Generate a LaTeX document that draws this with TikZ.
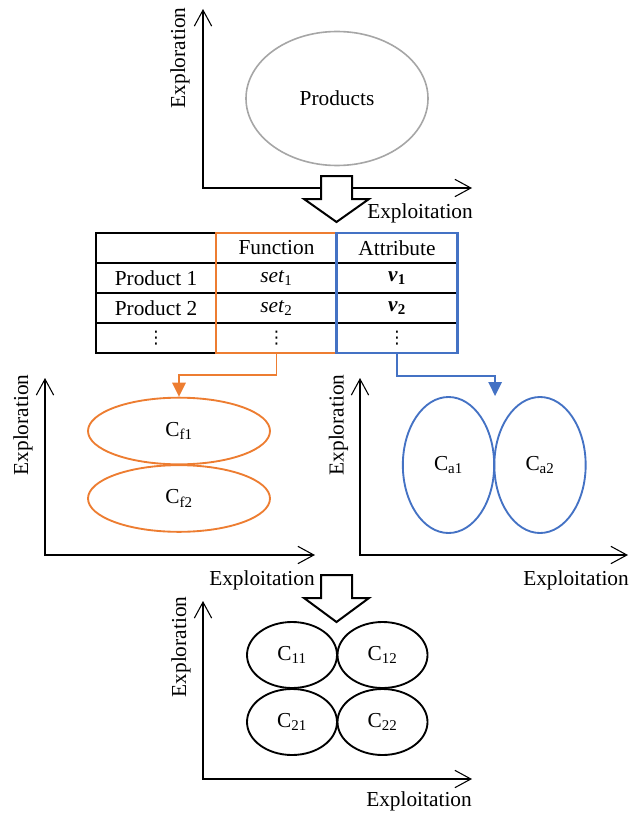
\documentclass[tikz,border=0pt]{standalone}
\usepackage{fontspec}
\setmainfont{Liberation Serif}
\newfontfamily\dotsfont{DejaVu Sans}
\usetikzlibrary{arrows.meta,shapes.geometric,positioning}

\definecolor{fnorange}{HTML}{ED7D31}
\definecolor{atblue}{HTML}{4472C4}

\begin{document}
\begin{tikzpicture}[x=0.75pt,y=-0.75pt,
  every node/.style={font=\fontsize{16}{18}\selectfont},
  axis/.style={{Straight Barb[length=12pt,width=13pt]}-{Straight Barb[length=12pt,width=13pt]},line width=0.8pt},
  prod node/.style={ellipse,draw=black!35,line width=1.2pt,minimum width=136.5pt,minimum height=100.5pt},
  fn node/.style={ellipse,draw=fnorange,line width=1.4pt,minimum width=136.5pt,minimum height=50pt},
  at node/.style={ellipse,draw=atblue,line width=1.4pt,minimum width=68.5pt,minimum height=102pt},
  mix node/.style={ellipse,draw,line width=1.4pt,minimum width=67.5pt,minimum height=49.5pt},
  cell node/.style={inner sep=0pt},
  dots node/.style={inner sep=0pt,font=\dotsfont\fontsize{13}{14}\selectfont},
  col node/.style={rectangle,inner sep=0pt,line width=1.6pt,minimum width=90.75pt,minimum height=90pt},
  hollow/.style={draw,fill=white,line width=1.5pt,line join=miter}]
  \useasboundingbox (0,0) rectangle (629,813);

  % top panel
  \coordinate (y1) at (203,9);
  \coordinate (o1) at (203,188);
  \coordinate (x1) at (472,188);
  \draw[axis] (y1) -- (o1) -- (x1);
  \node[rotate=90] (ey1) at (180,58) {Exploration};
  \node[prod node] (prod) at (337,98.5) {Products};

  % table
  \draw[line width=1.6pt] (96,233) rectangle (457,353);
  \foreach \y in {263,293,323}
    \draw[line width=1.6pt] (96,\y) -- (457,\y);
  \node[cell node] (fn) at (276.5,248) {Function};
  \node[cell node] (at) at (397,248) {Attribute};
  \node[cell node] (p1) at (156,278) {Product 1};
  \node[cell node] (f1) at (276.5,278) {\textit{set}\textsubscript{1}};
  \node[cell node] (a1) at (397,278) {\textbf{\textit{v}}\textsubscript{\textbf{1}}};
  \node[cell node] (p2) at (156,308) {Product 2};
  \node[cell node] (f2) at (276.5,308) {\textit{set}\textsubscript{2}};
  \node[cell node] (a2) at (397,308) {\textbf{\textit{v}}\textsubscript{\textbf{2}}};
  \node[dots node] (p3) at (156,338) {⋮};
  \node[dots node] (f3) at (276.5,338) {⋮};
  \node[dots node] (a3) at (397,338) {⋮};
  \node[col node,draw=fnorange] (fncol) at (276.5,293) {};
  \node[col node,draw=atblue] (atcol) at (397,293) {};

  \node (ex1) at (420,213) {Exploitation};
  \draw[hollow] (336.5,176) -- ++(15.5,0) -- ++(0,23) -- ++(17,0) -- ++(-32.5,23)
    -- ++(-32.5,-23) -- ++(17,0) -- ++(0,-23) -- cycle;

  % function panel
  \coordinate (y2) at (45,378);
  \coordinate (o2) at (45,555);
  \coordinate (x2) at (315,555);
  \draw[axis] (y2) -- (o2) -- (x2);
  \node[rotate=90] (ey2) at (23,425) {Exploration};
  \node (ex2) at (262,580) {Exploitation};
  \node[fn node] (cf1) at (179,431) {C\textsubscript{f1}};
  \node[fn node] (cf2) at (179,498.5) {C\textsubscript{f2}};
  \draw[fnorange,line width=1.4pt,-{Triangle[length=10.5pt,width=10pt]}]
    (fncol.south) -- ++(0,21) -| (cf1.north);

  % attribute panel
  \coordinate (y3) at (360,378);
  \coordinate (o3) at (360,555);
  \coordinate (x3) at (628,555);
  \draw[axis] (y3) -- (o3) -- (x3);
  \node[rotate=90] (ey3) at (338.5,425) {Exploration};
  \node (ex3) at (576,580) {Exploitation};
  \node[at node] (ca1) at (448.5,465) {C\textsubscript{a1}};
  \node[at node] (ca2) at (540,465) {C\textsubscript{a2}};
  \draw[atblue,line width=1.4pt,-{Triangle[length=10.5pt,width=10pt]}]
    (atcol.south) -- ++(0,22) -| (ca1.east |- ca1.north);

  % combined panel
  \draw[hollow] (336.5,575) -- ++(15.5,0) -- ++(0,23) -- ++(17,0) -- ++(-32.5,24)
    -- ++(-32.5,-24) -- ++(17,0) -- ++(0,-23) -- cycle;
  \coordinate (y4) at (203,601);
  \coordinate (o4) at (203,779);
  \coordinate (x4) at (472,779);
  \draw[axis] (y4) -- (o4) -- (x4);
  \node[rotate=90] (ey4) at (181,647) {Exploration};
  \node (ex4) at (419,801) {Exploitation};
  \node[mix node] (c11) at (292,655) {C\textsubscript{11}};
  \node[mix node] (c12) at (382.5,655) {C\textsubscript{12}};
  \node[mix node] (c21) at (292,722) {C\textsubscript{21}};
  \node[mix node] (c22) at (382.5,722) {C\textsubscript{22}};
\end{tikzpicture}
\end{document}
